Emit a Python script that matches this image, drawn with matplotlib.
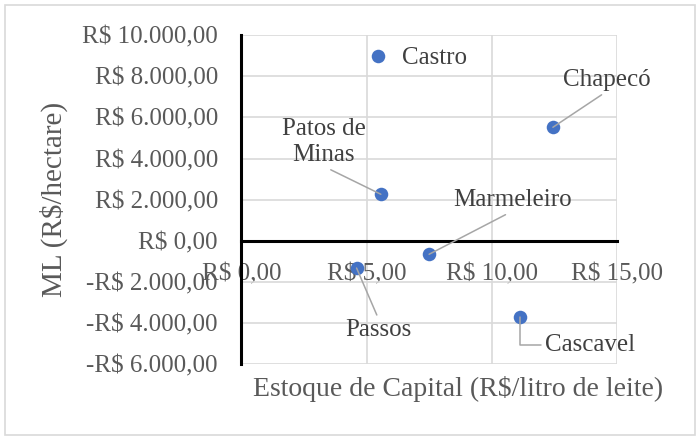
import matplotlib
matplotlib.use("Agg")
import matplotlib.pyplot as plt
from matplotlib.patches import Rectangle

plt.rcParams['font.family'] = ['Liberation Serif', 'DejaVu Serif']

# dados
cidades = ["Castro", "Chapecó", "Patos de\nMinas", "Marmeleiro", "Passos", "Cascavel"]
estoque = [5.45, 12.45, 5.57, 7.5, 4.6, 11.13]      # R$/litro de leite
ml = [8980, 5520, 2260, -660, -1330, -3700]          # R$/hectare

xticks = [0, 5, 10, 15]
yticks = [-6000, -4000, -2000, 0, 2000, 4000, 6000, 8000, 10000]

def brl(v):
    s = "{:,.2f}".format(abs(v)).replace(",", "X").replace(".", ",").replace("X", ".")
    return ("-R$ " if v < 0 else "R$ ") + s

# offset do rotulo (px) em relacao ao ponto, alinhamento, conexao, relpos
rotulos = {
    "Castro": ((24, -2), "left", None, None),
    "Chapecó": ((54, 47), "center", "arc3", (0.5, 0.0)),
    "Patos de\nMinas": ((-57, 52), "center", "arc3", (0.5, 0.0)),
    "Marmeleiro": ((83, 54), "center", "arc3", (0.5, 0.0)),
    "Passos": ((22, -62), "center", "arc3", (0.5, 1.0)),
    "Cascavel": ((25, -28), "left", "angle,angleA=180,angleB=90,rad=0", (0.0, 0.5)),
}

fig = plt.figure(figsize=(7, 4.4), dpi=100)
ax = fig.add_axes([0.345, 0.1727, 0.536, 0.7473])

ax.set_xlim(0, 15)
ax.set_ylim(-6000, 10000)
ax.set_xticks(xticks)
ax.set_yticks(yticks)
ax.set_xticklabels([brl(v) for v in xticks])
ax.set_yticklabels([brl(v) for v in yticks])
ax.grid(True, color="#d9d9d9", linewidth=1.2)
ax.set_axisbelow(True)

for s in ["top", "right"]:
    ax.spines[s].set_visible(False)
ax.spines["left"].set_linewidth(2.2)
ax.spines["left"].set_color("black")
ax.spines["bottom"].set_position(("data", 0))
ax.spines["bottom"].set_linewidth(2.2)
ax.spines["bottom"].set_color("black")
ax.spines["bottom"].set_zorder(1.5)

ax.tick_params(axis="both", length=0, labelsize=18, labelcolor="#595959")
ax.tick_params(axis="y", pad=17)
ax.tick_params(axis="x", pad=16.5)

ax.scatter(estoque, ml, s=95, color="#4472C4", zorder=3, linewidths=0)

for nome, x, y in zip(cidades, estoque, ml):
    (dx, dy), ha, conn, rp = rotulos[nome]
    props = None
    if conn is not None:
        props = dict(arrowstyle="-", color="#a6a6a6", lw=1.1,
                     connectionstyle=conn, shrinkA=1, shrinkB=0, relpos=rp)
    ax.annotate(nome, xy=(x, y), xytext=(dx, dy), textcoords="offset pixels",
                ha=ha, va="center", fontsize=18, color="#404040",
                linespacing=1.25, arrowprops=props, zorder=4)

ax.set_xlabel("Estoque de Capital (R$/litro de leite)", fontsize=20, color="#595959")
ax.xaxis.set_label_coords(0.577, -0.037)
ax.set_ylabel("ML (R$/hectare)", fontsize=21, color="#595959")
ax.yaxis.set_label_coords(-0.463, 0.5)

# moldura do grafico
fig.patches.append(Rectangle((5 / 700, 5 / 440), 690 / 700, 430 / 440,
                             transform=fig.transFigure, fill=False,
                             edgecolor="#d9d9d9", linewidth=1.2))

fig.savefig("out.png", dpi=100)
